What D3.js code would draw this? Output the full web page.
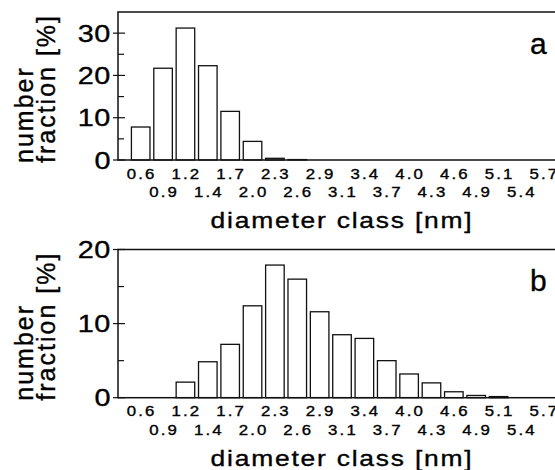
<!DOCTYPE html>
<html>
<head>
<meta charset="utf-8">
<script src="https://cdnjs.cloudflare.com/ajax/libs/d3/7.8.5/d3.min.js"></script>
<style>
  body { margin: 0; background: #fff; }
  svg { display: block; font-family: "Liberation Sans", Arial, sans-serif; }
  text { fill: #000; stroke: #000; stroke-width: 0.35px; }
</style>
</head>
<body>
<svg id="chart"></svg>
<script>
// diameter classes [nm]
const diameterClasses = ["0.6","0.9","1.2","1.4","1.7","2.0","2.3","2.6","2.9","3.1",
                         "3.4","3.7","4.0","4.3","4.6","4.9","5.1","5.4","5.7"];
// number fraction [%], panel a
const fractionA = [7.8, 21.7, 31.2, 22.3, 11.5, 4.4, 0.4, 0.1, 0, 0,
                   0, 0, 0, 0, 0, 0, 0, 0, 0];
// number fraction [%], panel b
const fractionB = [0, 0, 2.1, 4.85, 7.2, 12.4, 17.9, 16.0, 11.6, 8.5,
                   8.0, 5.0, 3.2, 2.0, 0.8, 0.3, 0.15, 0, 0];
const ticksA = [0, 10, 20, 30];
const minorA = [5, 15, 25];
const ticksB = [0, 10, 20];
const minorB = [5, 15];

const w = 555, h = 470;
const svg = d3.select("#chart").attr("width", w).attr("height", h);

const left = 118, right = 566;
const sx = 1.2; // the scanned figure is wider than tall

let x = d3.scaleBand()
  .domain(diameterClasses)
  .range([left, right])
  .paddingInner(0.17)
  .paddingOuter(0.6);

// text stretched horizontally, anchored at (px, py)
function wideText(parent, px, py, str, size, spacing, anchor) {
  return parent.append("text")
    .attr("transform", "translate(" + px + "," + py + ") scale(" + sx + ",1)")
    .attr("text-anchor", anchor || "start")
    .style("font-size", size + "px")
    .style("letter-spacing", spacing + "px")
    .text(str);
}

function drawPanel(values, yMax, ticks, minor, letter, top, bottom) {
  let y = d3.scaleLinear().domain([0, yMax]).range([bottom, top]);
  let g = svg.append("g");

  // bars (zero classes are not drawn)
  g.selectAll(".bar")
    .data(values.map((v, i) => ({ cls: diameterClasses[i], v: v })).filter(d => d.v > 0))
    .enter().append("rect")
    .attr("class", "bar")
    .attr("x", d => x(d.cls))
    .attr("y", d => y(d.v))
    .attr("width", x.bandwidth())
    .attr("height", d => y(0) - y(d.v))
    .attr("fill", "#fff")
    .attr("stroke", "#111")
    .attr("stroke-width", 1.3);

  // frame (right edge lies outside the picture)
  g.append("rect")
    .attr("x", left).attr("y", top)
    .attr("width", right - left).attr("height", bottom - top)
    .attr("fill", "none")
    .attr("stroke", "#111")
    .attr("stroke-width", 1.5);

  // major ticks cross the axis, minor ticks point inward
  g.selectAll(".major")
    .data(ticks)
    .enter().append("line")
    .attr("x1", left - 5).attr("x2", left + 7)
    .attr("y1", d => y(d)).attr("y2", d => y(d))
    .attr("stroke", "#111").attr("stroke-width", 1.2);
  g.selectAll(".minor")
    .data(minor)
    .enter().append("line")
    .attr("x1", left).attr("x2", left + 6)
    .attr("y1", d => y(d)).attr("y2", d => y(d))
    .attr("stroke", "#111").attr("stroke-width", 1.2);

  ticks.forEach(t => {
    wideText(g, left - 7, y(t) + 8.5, t, 24, 0.5, "end");
  });

  // x tick labels in two staggered rows
  diameterClasses.forEach((d, i) => {
    wideText(g, x(d) + x.bandwidth() / 2 + 1, bottom + (i % 2 == 0 ? 18.5 : 37),
             d, 14, 1.8, "middle");
  });

  wideText(g, 342, bottom + 68, "diameter class [nm]", 22, 1.5, "middle");

  // y title, two lines
  let yt = g.append("text")
    .attr("transform", "translate(0," + (bottom + 3) + ") rotate(-90)")
    .style("font-size", "25px")
    .style("letter-spacing", "2px");
  yt.append("tspan").attr("x", 0).attr("y", 33).text("number");
  yt.append("tspan").attr("x", 0).attr("y", 55).text("fraction [%]");

  g.append("text")
    .attr("x", 530)
    .attr("y", top + 41.5)
    .style("font-size", "30px")
    .text(letter);
}

drawPanel(fractionA, 35, ticksA, minorA, "a", 12, 160);
drawPanel(fractionB, 20, ticksB, minorB, "b", 249.5, 397.7);
</script>
</body>
</html>
